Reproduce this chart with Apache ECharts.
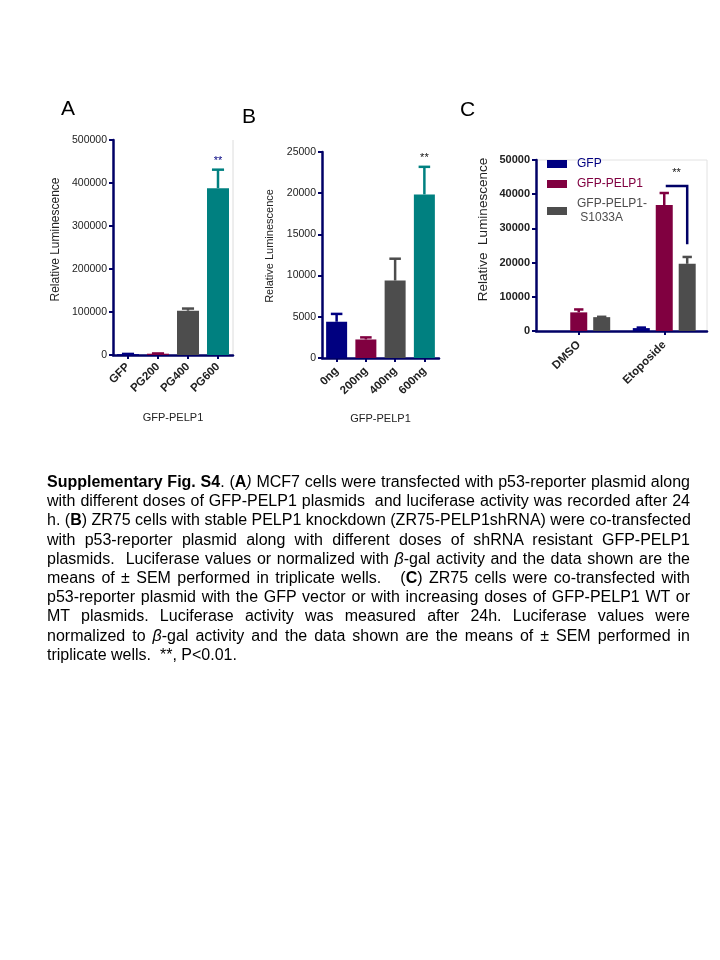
<!DOCTYPE html>
<html>
<head>
<meta charset="utf-8">
<script src="https://cdn.jsdelivr.net/npm/echarts@6/dist/echarts.min.js"></script>
<style>
  html, body { margin: 0; padding: 0; background: #fff; }
  #chart { position: absolute; left: 0; top: 0; width: 720px; height: 960px; }
  #caption { position: absolute; left: 47px; top: 472px; width: 643px;
    font-family: 'Liberation Sans', Arial, sans-serif; font-size: 16px; line-height: 19.2px; color: #000; }
  #caption div { white-space: nowrap; text-align: justify; text-align-last: justify; }
  #caption div.last { text-align-last: left; }
</style>
</head>
<body>
<div id="chart"></div>
<div id="caption">
  <div><b>Supplementary Fig. S4</b>. (<b>A</b><i>)</i> MCF7 cells were transfected with p53-reporter plasmid along</div>
  <div>with different doses of GFP-PELP1 plasmids &nbsp;and luciferase activity was recorded after 24</div>
  <div>h. (<b>B</b>) ZR75 cells with stable PELP1 knockdown (ZR75-PELP1shRNA) were co-transfected</div>
  <div>with p53-reporter plasmid along with different doses of shRNA resistant GFP-PELP1</div>
  <div>plasmids. &nbsp;Luciferase values or normalized with <i>β</i>-gal activity and the data shown are the</div>
  <div>means of ± SEM performed in triplicate wells. &nbsp;&nbsp;(<b>C</b>) ZR75 cells were co-transfected with</div>
  <div>p53-reporter plasmid with the GFP vector or with increasing doses of GFP-PELP1 WT or</div>
  <div>MT plasmids. Luciferase activity was measured after 24h. Luciferase values were</div>
  <div>normalized to <i>β</i>-gal activity and the data shown are the means of ± SEM performed in</div>
  <div class="last">triplicate wells. &nbsp;**, P&lt;0.01.</div>
</div>
<script>
// ---------- DATA ----------
var catsA = ['GFP', 'PG200', 'PG400', 'PG600'];
var meanA = [2000, 3000, 103000, 388000];
var semA  = [500, 600, 5000, 43000];
var sigA  = ['', '', '', '**'];

var catsB = ['0ng', '200ng', '400ng', '600ng'];
var meanB = [4400, 2250, 9400, 19850];
var semB  = [950, 250, 2650, 3350];
var sigB  = ['', '', '', '**'];

var catsC = ['DMSO', 'Etoposide'];
var seriesC = ['GFP', 'GFP-PELP1', 'GFP-PELP1-\n S1033A'];
var meanC_GFP    = [0, 850];
var semC_GFP     = [0, 150];
var meanC_PELP1  = [5450, 36850];
var semC_PELP1   = [850, 3500];
var meanC_S1033A = [4050, 19650];
var semC_S1033A  = [100, 2000];
var bracketC = [1, 42400, 25400]; // [category, bracket top value, right leg bottom value]

var ticksA = { max: 500000, interval: 100000 };
var ticksB = { max: 25000, interval: 5000 };
var ticksC = { max: 50000, interval: 10000 };

// ---------- STYLE ----------
var FONT = "'Liberation Sans', Arial, sans-serif";
var NAVY = '#000080', MAROON = '#800040', GRAY = '#4d4d4d', TEAL = '#008080';
var AXIS = '#000066';
var colors4 = [NAVY, MAROON, GRAY, TEAL];

var G = {
  A: { left: 113, top: 140, width: 120, height: 215 },
  B: { left: 322, top: 152, width: 117, height: 206 },
  C: { left: 536, top: 160, width: 171, height: 171 }
};

function catAxis(idx, data, name, gap, fs, margin) {
  return {
    type: 'category', gridIndex: idx, data: data,
    axisLine: { lineStyle: { color: AXIS, width: 2.5 } },
    axisTick: { show: true, alignWithLabel: true, length: 4, lineStyle: { color: AXIS, width: 2 } },
    axisLabel: { rotate: 45, fontSize: fs, fontWeight: 'bold', color: '#222', fontFamily: FONT, margin: margin, interval: 0 },
    name: name, nameLocation: 'middle', nameGap: gap,
    nameTextStyle: { fontSize: 11, color: '#222', fontFamily: FONT }
  };
}
function valAxis(idx, t, name, gap, nameSize, shift, bold, labelSize) {
  return {
    type: 'value', gridIndex: idx, min: 0, max: t.max, interval: t.interval,
    axisLine: { show: true, lineStyle: { color: AXIS, width: 2.5 } },
    axisTick: { show: true, length: 4, lineStyle: { color: AXIS, width: 2 } },
    splitLine: { show: false },
    axisLabel: { fontSize: labelSize, color: '#222', fontFamily: FONT, margin: 6,
      fontWeight: bold ? 'bold' : 'normal', formatter: function (v) { return String(v); } },
    name: name, nameLocation: 'middle', nameGap: gap, nameRotate: 90,
    nameTextStyle: { fontSize: nameSize, color: '#222', fontFamily: FONT, padding: [0, 0, 0, shift] }
  };
}

function barData(vals, cols) {
  return vals.map(function (v, i) { return { value: v, itemStyle: { color: cols[i] } }; });
}

function errSeries(xi, yi, means, sems, cols, sig, sigColor, barW, gap, k, n) {
  var data = means.map(function (m, i) { return [i, m, sems[i]]; });
  return {
    type: 'custom', xAxisIndex: xi, yAxisIndex: yi, z: 5, silent: true,
    data: data,
    renderItem: function (params, api) {
      var i = api.value(0), m = api.value(1), s = api.value(2);
      var off = (k - (n - 1) / 2) * (barW + gap);
      var p0 = api.coord([i, m]);
      var p1 = api.coord([i, m + s]);
      var x = p0[0] + off;
      var col = Array.isArray(cols) ? cols[i] : cols;
      var capW = barW * 0.55;
      var children = [];
      if (s > 0) {
        children.push({ type: 'line', shape: { x1: x, y1: p0[1], x2: x, y2: p1[1] }, style: { stroke: col, lineWidth: 2.5 } });
        children.push({ type: 'line', shape: { x1: x - capW / 2, y1: p1[1], x2: x + capW / 2, y2: p1[1] }, style: { stroke: col, lineWidth: 2.5 } });
      }
      if (sig && sig[i]) {
        children.push({ type: 'text', style: { text: sig[i], x: x, y: p1[1] - 3, align: 'center', verticalAlign: 'bottom',
          fill: sigColor, font: '11px ' + FONT } });
      }
      return { type: 'group', children: children };
    }
  };
}

var gapC = 17 * 0.35;
var legendColors = [NAVY, MAROON, GRAY];
function legendItem(i) {
  return { name: seriesC[i], textStyle: { color: legendColors[i], fontSize: 12, lineHeight: 14,
    fontFamily: FONT, padding: [0, 0, 0, 5] } };
}

var option = {
  animation: false,
  backgroundColor: '#fff',
  textStyle: { fontFamily: FONT },
  grid: [
    { left: G.A.left, top: G.A.top, width: G.A.width, height: G.A.height },
    { left: G.B.left, top: G.B.top, width: G.B.width, height: G.B.height },
    { left: G.C.left, top: G.C.top, width: G.C.width, height: G.C.height }
  ],
  xAxis: [
    catAxis(0, catsA, 'GFP-PELP1', 57, 11.5, 10),
    catAxis(1, catsB, 'GFP-PELP1', 55, 11.5, 11),
    catAxis(2, catsC, '', 0, 11.5, 12)
  ],
  yAxis: [
    valAxis(0, ticksA, 'Relative Luminescence', 51, 12, 16, false, 10.5),
    valAxis(1, ticksB, 'Relative Luminescence', 47, 11, 18, false, 10.5),
    valAxis(2, ticksC, 'Relative  Luminescence', 46, 13.5, 32, true, 11)
  ],
  legend: {
    orient: 'vertical', left: 547, top: 157, padding: 0, itemWidth: 20, itemHeight: 8, itemGap: 6,
    icon: 'rect', selectedMode: false,
    textStyle: { fontSize: 12, lineHeight: 14, fontFamily: FONT, padding: [0, 0, 0, 5] },
    data: [legendItem(0), legendItem(1), legendItem(2)]
  },
  series: [
    { type: 'bar', xAxisIndex: 0, yAxisIndex: 0, barWidth: 22, data: barData(meanA, colors4) },
    errSeries(0, 0, meanA, semA, colors4, sigA, NAVY, 22, 0, 0, 1),
    { type: 'bar', xAxisIndex: 1, yAxisIndex: 1, barWidth: 21, data: barData(meanB, colors4) },
    errSeries(1, 1, meanB, semB, colors4, sigB, '#111', 21, 0, 0, 1),
    { type: 'bar', name: seriesC[0], xAxisIndex: 2, yAxisIndex: 2, barWidth: 17, barGap: '35%', itemStyle: { color: NAVY }, data: meanC_GFP },
    { type: 'bar', name: seriesC[1], xAxisIndex: 2, yAxisIndex: 2, barWidth: 17, barGap: '35%', itemStyle: { color: MAROON }, data: meanC_PELP1 },
    { type: 'bar', name: seriesC[2], xAxisIndex: 2, yAxisIndex: 2, barWidth: 17, barGap: '35%', itemStyle: { color: GRAY }, data: meanC_S1033A },
    errSeries(2, 2, meanC_GFP, semC_GFP, NAVY, null, null, 17, gapC, 0, 3),
    errSeries(2, 2, meanC_PELP1, semC_PELP1, MAROON, null, null, 17, gapC, 1, 3),
    errSeries(2, 2, meanC_S1033A, semC_S1033A, GRAY, null, null, 17, gapC, 2, 3),
    {
      type: 'custom', xAxisIndex: 2, yAxisIndex: 2, z: 6, silent: true,
      data: [bracketC],
      renderItem: function (params, api) {
        var c = api.value(0), top = api.value(1), bot = api.value(2);
        var pt = api.coord([c, top]);
        var pb = api.coord([c, bot]);
        var xl = pt[0] + 1.5, xr = pt[0] + (17 + gapC);
        return { type: 'group', children: [
          { type: 'polyline', shape: { points: [[xl, pt[1]], [xr, pt[1]], [xr, pb[1]]] },
            style: { stroke: AXIS, lineWidth: 2.5, fill: null } },
          { type: 'text', style: { text: '**', x: (xl + xr) / 2, y: pt[1] - 8, align: 'center', verticalAlign: 'bottom',
            fill: '#111', font: '11px ' + FONT } }
        ] };
      }
    }
  ],
  graphic: [
    { type: 'text', left: 61, top: 99, style: { text: 'A', font: '21px ' + FONT, fill: '#000' } },
    { type: 'text', left: 242, top: 107, style: { text: 'B', font: '21px ' + FONT, fill: '#000' } },
    { type: 'text', left: 460, top: 100, style: { text: 'C', font: '21px ' + FONT, fill: '#000' } },
    { type: 'line', shape: { x1: G.A.left + G.A.width, y1: G.A.top, x2: G.A.left + G.A.width, y2: G.A.top + G.A.height },
      style: { stroke: '#dcdcdc', lineWidth: 1 } },
    { type: 'line', shape: { x1: G.C.left, y1: G.C.top, x2: G.C.left + G.C.width, y2: G.C.top },
      style: { stroke: '#e2e2e2', lineWidth: 1 } },
    { type: 'line', shape: { x1: G.C.left + G.C.width, y1: G.C.top, x2: G.C.left + G.C.width, y2: G.C.top + G.C.height },
      style: { stroke: '#e2e2e2', lineWidth: 1 } }
  ]
};

var chart = echarts.init(document.getElementById('chart'), null, { renderer: 'canvas' });
chart.setOption(option);
</script>
</body>
</html>
